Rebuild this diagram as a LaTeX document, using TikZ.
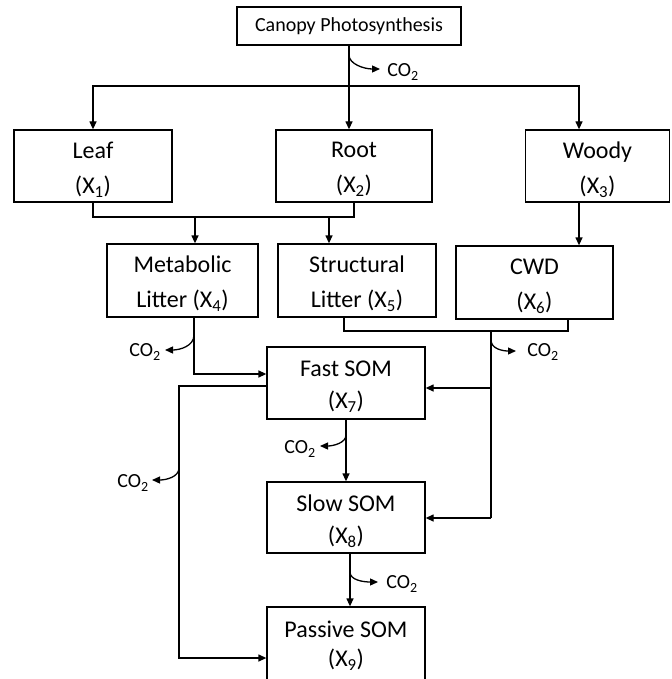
\documentclass[tikz,border=0pt]{standalone}
\usepackage{fontspec}
\setmainfont{Carlito}
\usetikzlibrary{arrows.meta}
\tikzset{
  box/.style={draw, line width=1.3pt, inner sep=0pt},
  boxtxt/.style={align=center, inner sep=0pt, yshift=-3.5pt, font=\fontsize{24}{35}\selectfont},
  arr/.style={line width=1.3pt, -{Triangle[length=8pt,width=7pt]}},
  ln/.style={line width=1.3pt},
  cotxt/.style={font=\fontsize{20}{22}\selectfont, inner sep=0pt},
}
\newcommand{\cotwo}{CO\textsubscript{2}}
\begin{document}
\begin{tikzpicture}[x=1pt,y=-1pt]
\useasboundingbox (0,0) rectangle (671,679);
\clip (0,0) rectangle (671,679);
% boxes
\node[box, minimum width=224pt, minimum height=38pt, font=\fontsize{20}{24}\selectfont] (canopy) at (349,26) {Canopy Photosynthesis};
\node[box, minimum width=158pt, minimum height=72pt] (leaf) at (93,166) {};
\node[box, minimum width=156pt, minimum height=72pt] (root) at (354,166) {};
\node[box, minimum width=144pt, minimum height=72pt] (woody) at (597.5,166) {};
\node[box, minimum width=151pt, minimum height=73pt] (metab) at (182.5,280.5) {};
\node[box, minimum width=158pt, minimum height=73pt] (struct) at (357,280.5) {};
\node[box, minimum width=157pt, minimum height=73pt] (cwd) at (534.5,282.5) {};
\node[box, minimum width=158pt, minimum height=72pt] (fast) at (346,383) {};
\node[box, minimum width=158pt, minimum height=71pt] (slow) at (346,517.5) {};
\node[box, minimum width=158pt, minimum height=76pt] (passive) at (346,645) {};
% box texts
\node[boxtxt] (tleaf) at (leaf.center) {Leaf\\(X\textsubscript{1})};
\node[boxtxt] (troot) at (root.center) {Root\\(X\textsubscript{2})};
\node[boxtxt] (twoody) at (woody.center) {Woody\\(X\textsubscript{3})};
\node[boxtxt] (tmetab) at (metab.center) {Metabolic\\Litter (X\textsubscript{4})};
\node[boxtxt] (tstruct) at (struct.center) {Structural\\Litter (X\textsubscript{5})};
\node[boxtxt] (tcwd) at (cwd.center) {CWD\\(X\textsubscript{6})};
\node[boxtxt, font=\fontsize{24}{32}\selectfont] (tfast) at (fast.center) {Fast SOM\\(X\textsubscript{7})};
\node[boxtxt, font=\fontsize{24}{32}\selectfont] (tslow) at (slow.center) {Slow SOM\\(X\textsubscript{8})};
\node[boxtxt, font=\fontsize{24}{29}\selectfont, yshift=3pt] (tpassive) at (passive.center) {Passive SOM\\(X\textsubscript{9})};
% CO2 labels
\node[cotxt] (co1) at (403,72) {\cotwo};
\node[cotxt] (co2) at (145,352) {\cotwo};
\node[cotxt] (co3) at (543,352) {\cotwo};
\node[cotxt] (co4) at (133,483) {\cotwo};
\node[cotxt] (co5) at (300,449) {\cotwo};
\node[cotxt] (co6) at (402,584) {\cotwo};
% junction coordinates
\coordinate (j1) at (349,86);
\coordinate (j2) at (93,217);
\coordinate (m4) at (195,217);
\coordinate (m5) at (329,217);
\coordinate (w6) at (579,202);
\coordinate (j4) at (194,374);
\coordinate (j5) at (344,331);
\coordinate (j6) at (491,331);
\coordinate (j7) at (491,518);
\coordinate (fe) at (491,388);
\coordinate (jl) at (267,386);
\coordinate (jl2) at (179,386);
\coordinate (jl3) at (179,658);
% connectors
\draw[arr] (canopy.south) -- (canopy.south |- root.north);
\draw[arr] (j1) -| (leaf.north);
\draw[arr] (j1) -| (woody.north -| w6) ;
\draw[ln] (leaf.south) -- (j2) -| (root.south);
\draw[arr] (m4) -- (m4 |- metab.north);
\draw[arr] (m5) -- (m5 |- struct.north);
\draw[arr] (w6) -- (w6 |- cwd.north);
\draw[arr] (j4 |- metab.south) -- (j4) -- (j4 -| fast.west);
\draw[ln] (j5 |- struct.south) -- (j5) -| (cwd.south -| 568,0);
\draw[ln] (j6) -- (j7);
\draw[arr] (fe) -- (fe -| fast.east);
\draw[arr] (j7) -- (j7 -| slow.east);
\draw[arr] (jl) -- (jl2) -- (jl3) -- (jl3 -| passive.west);
\draw[arr] (fast.south) -- (slow.north);
\draw[arr] (slow.south -| 350,0) -- (passive.north -| 350,0);
% CO2 release curves
\draw[arr] (349,55) .. controls (349,64) and (364,69) .. (380,69);
\draw[arr] (194,335) .. controls (194,346) and (180,350) .. (165,350);
\draw[arr] (491,340) .. controls (491,349) and (503,351) .. (516,351);
\draw[arr] (179,468) .. controls (179,477) and (166,480) .. (152,480);
\draw[arr] (346,435) .. controls (346,443) and (333,446) .. (320,446);
\draw[arr] (350,572) .. controls (350,580) and (363,582) .. (378,582);
\end{tikzpicture}
\end{document}
